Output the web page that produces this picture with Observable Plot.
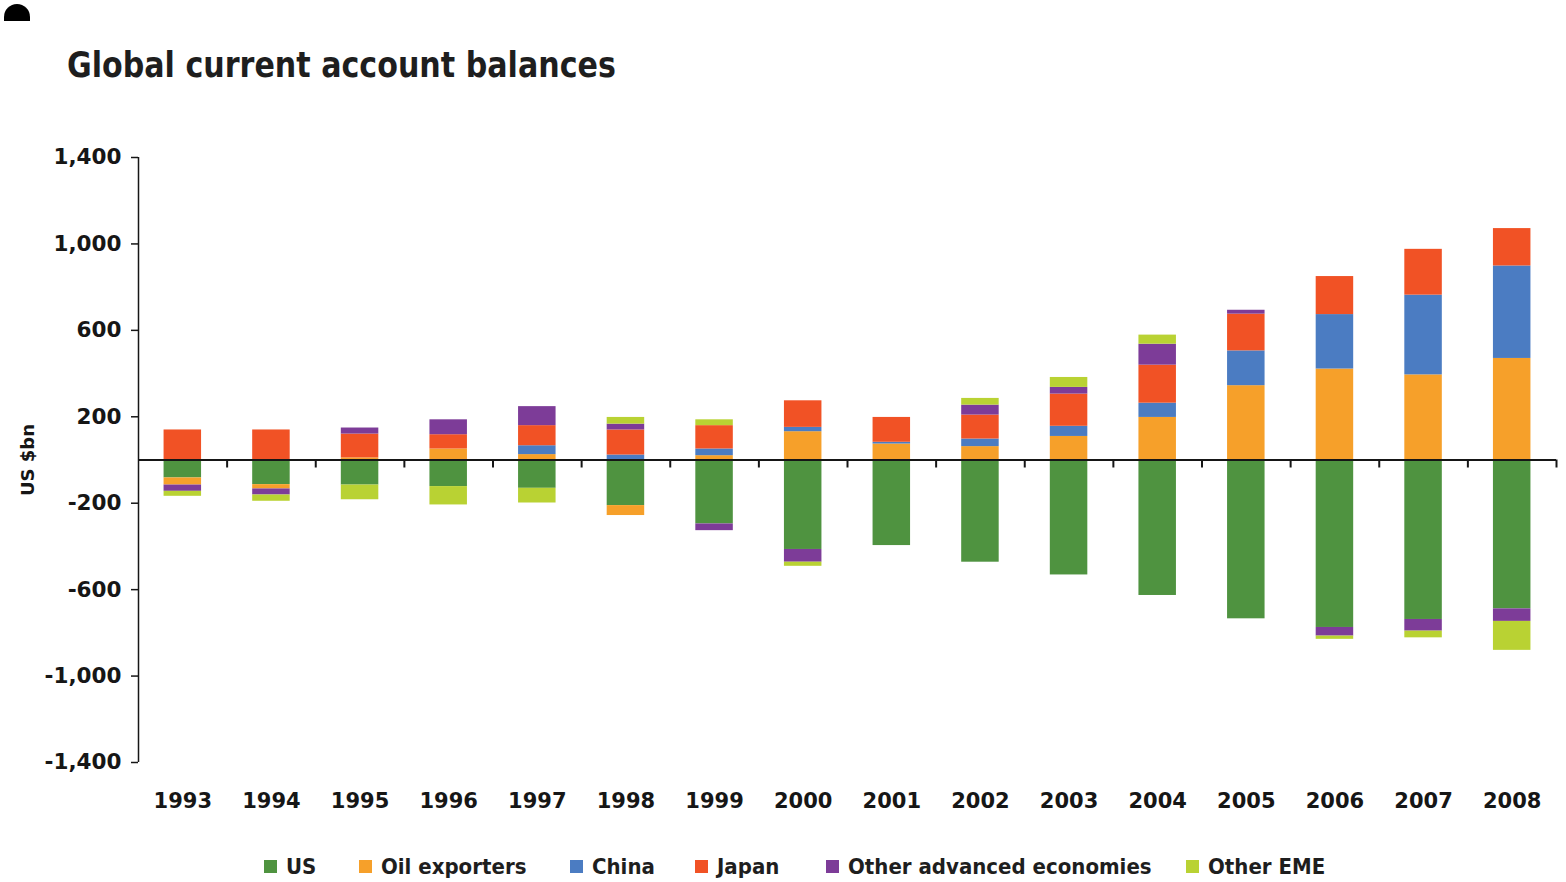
<!DOCTYPE html>
<html>
<head>
<meta charset="utf-8">
<script src="https://cdn.jsdelivr.net/npm/d3@7"></script>
<script src="https://cdn.jsdelivr.net/npm/@observablehq/plot@0.6"></script>
<style>
  html, body { margin: 0; padding: 0; background: #fff; }
  body { position: relative; width: 1566px; height: 882px; overflow: hidden; font-family: "DejaVu Sans", sans-serif; }
  #blob { position: absolute; left: 4px; top: 4px; width: 26px; height: 17px; background: #000; border-radius: 13px 13px 0 0; }
  #title { position: absolute; left: 67px; top: 47px; font-family: "DejaVu Sans Condensed", "DejaVu Sans", sans-serif; font-stretch: condensed; font-weight: bold; font-size: 36px; line-height: 1; color: #1e1e1e; white-space: nowrap; transform: scaleX(0.93); transform-origin: 0 0; }
  #chart { position: absolute; left: 0; top: 120px; }
  #chart svg text { font-weight: bold; }
  #legend { position: absolute; left: 0; top: 853px; width: 1566px; height: 26px; font-family: "DejaVu Sans Condensed", "DejaVu Sans", sans-serif; font-stretch: condensed; font-weight: bold; font-size: 22px; color: #1e1e1e; white-space: nowrap; }
  .item { position: absolute; top: 0; display: flex; align-items: center; gap: 9px; height: 26px; }
  .sw { width: 13px; height: 13px; display: inline-block; }
</style>
</head>
<body>
<div id="blob"></div>
<div id="title">Global current account balances</div>
<div id="chart"></div>
<div id="legend"></div>
<script>
const years = ["1993","1994","1995","1996","1997","1998","1999","2000","2001","2002","2003","2004","2005","2006","2007","2008"];
const seriesNames = ["US", "Oil exporters", "China", "Japan", "Other advanced economies", "Other EME"];
const seriesColors = ["#4f9340", "#f6a02a", "#4b7cc2", "#f15225", "#7d3c98", "#b9d233"];

// US $bn
const us       = [-83, -114, -116, -123, -131, -211, -296, -414, -396, -473, -532, -627, -735, -775, -738, -689];
const oil      = [-33, -20, 10, 51, 25, -46, 20, 131, 74, 62, 109, 197, 344, 421, 394, 470];
const china    = [0, 0, 0, 0, 41, 23, 31, 20, 8, 35, 47, 66, 161, 252, 369, 428];
const japan    = [139, 139, 110, 66, 93, 116, 108, 123, 115, 111, 149, 176, 170, 176, 212, 173];
const otherAdv = [-29, -28, 28, 69, 88, 27, -31, -59, 0, 46, 31, 97, 18, -40, -54, -58];
const otherEme = [-23, -29, -68, -85, -68, 31, 27, -19, 0, 31, 46, 42, 0, -15, -31, -134];

const yTicks = [-1400, -1000, -600, -200, 200, 600, 1000, 1400];
const yLabel = "US $bn";
const legendLefts = [264, 359, 570, 695, 826, 1186];

const seriesValues = [us, oil, china, japan, otherAdv, otherEme];
const rows = [];
seriesNames.forEach((s, i) => years.forEach((yr, j) => rows.push({year: yr, series: s, value: seriesValues[i][j]})));

const W = 1566, H = 720, mL = 138, mR = 10, mT = 37, mB = 78;
const step = (W - mL - mR) / years.length;
const barW = 37.5;
const inset = (step - barW) / 2;
const unitsPerPx = 2800 / (H - mT - mB);
const ink = "#161616";

const chart = Plot.plot({
  width: W, height: H,
  marginLeft: mL, marginRight: mR, marginTop: mT, marginBottom: mB,
  x: {domain: years, padding: 0, round: false, axis: null},
  y: {domain: [-1400, 1400], axis: null},
  color: {domain: seriesNames, range: seriesColors},
  style: {fontFamily: "DejaVu Sans, sans-serif", fontSize: "21px", color: ink, background: "white"},
  marks: [
    Plot.barY(rows, Plot.stackY({x: "year", y: "value", fill: "series", order: seriesNames, insetLeft: inset, insetRight: inset})),
    Plot.ruleY([0], {stroke: ink, strokeWidth: 2}),
    Plot.ruleX(years, {x: d => d, dx: step / 2, y1: 0, y2: -8 * unitsPerPx, stroke: ink, strokeWidth: 2}),
    Plot.ruleX([years[0]], {x: d => d, dx: -step / 2, y1: -1400, y2: 1400, stroke: ink, strokeWidth: 1.5}),
    Plot.axisY({ticks: yTicks, tickFormat: d => d.toLocaleString("en-US"), tickSize: 7, tickPadding: 10, label: null, fontSize: 21.5, stroke: ink, strokeWidth: 1.5}),
    Plot.axisX({tickSize: 0, tickPadding: 31, label: null, fontSize: 21}),
    Plot.text([yLabel], {text: d => d, frameAnchor: "left", textAnchor: "middle", dx: -110, rotate: -90, fontSize: 18, fill: ink})
  ]
});
document.getElementById("chart").appendChild(chart);

const legend = document.getElementById("legend");
seriesNames.forEach((s, i) => {
  const it = document.createElement("div");
  it.className = "item";
  it.style.left = legendLefts[i] + "px";
  const sw = document.createElement("span");
  sw.className = "sw";
  sw.style.background = seriesColors[i];
  const lb = document.createElement("span");
  lb.textContent = s;
  it.appendChild(sw); it.appendChild(lb);
  legend.appendChild(it);
});
</script>
</body>
</html>
